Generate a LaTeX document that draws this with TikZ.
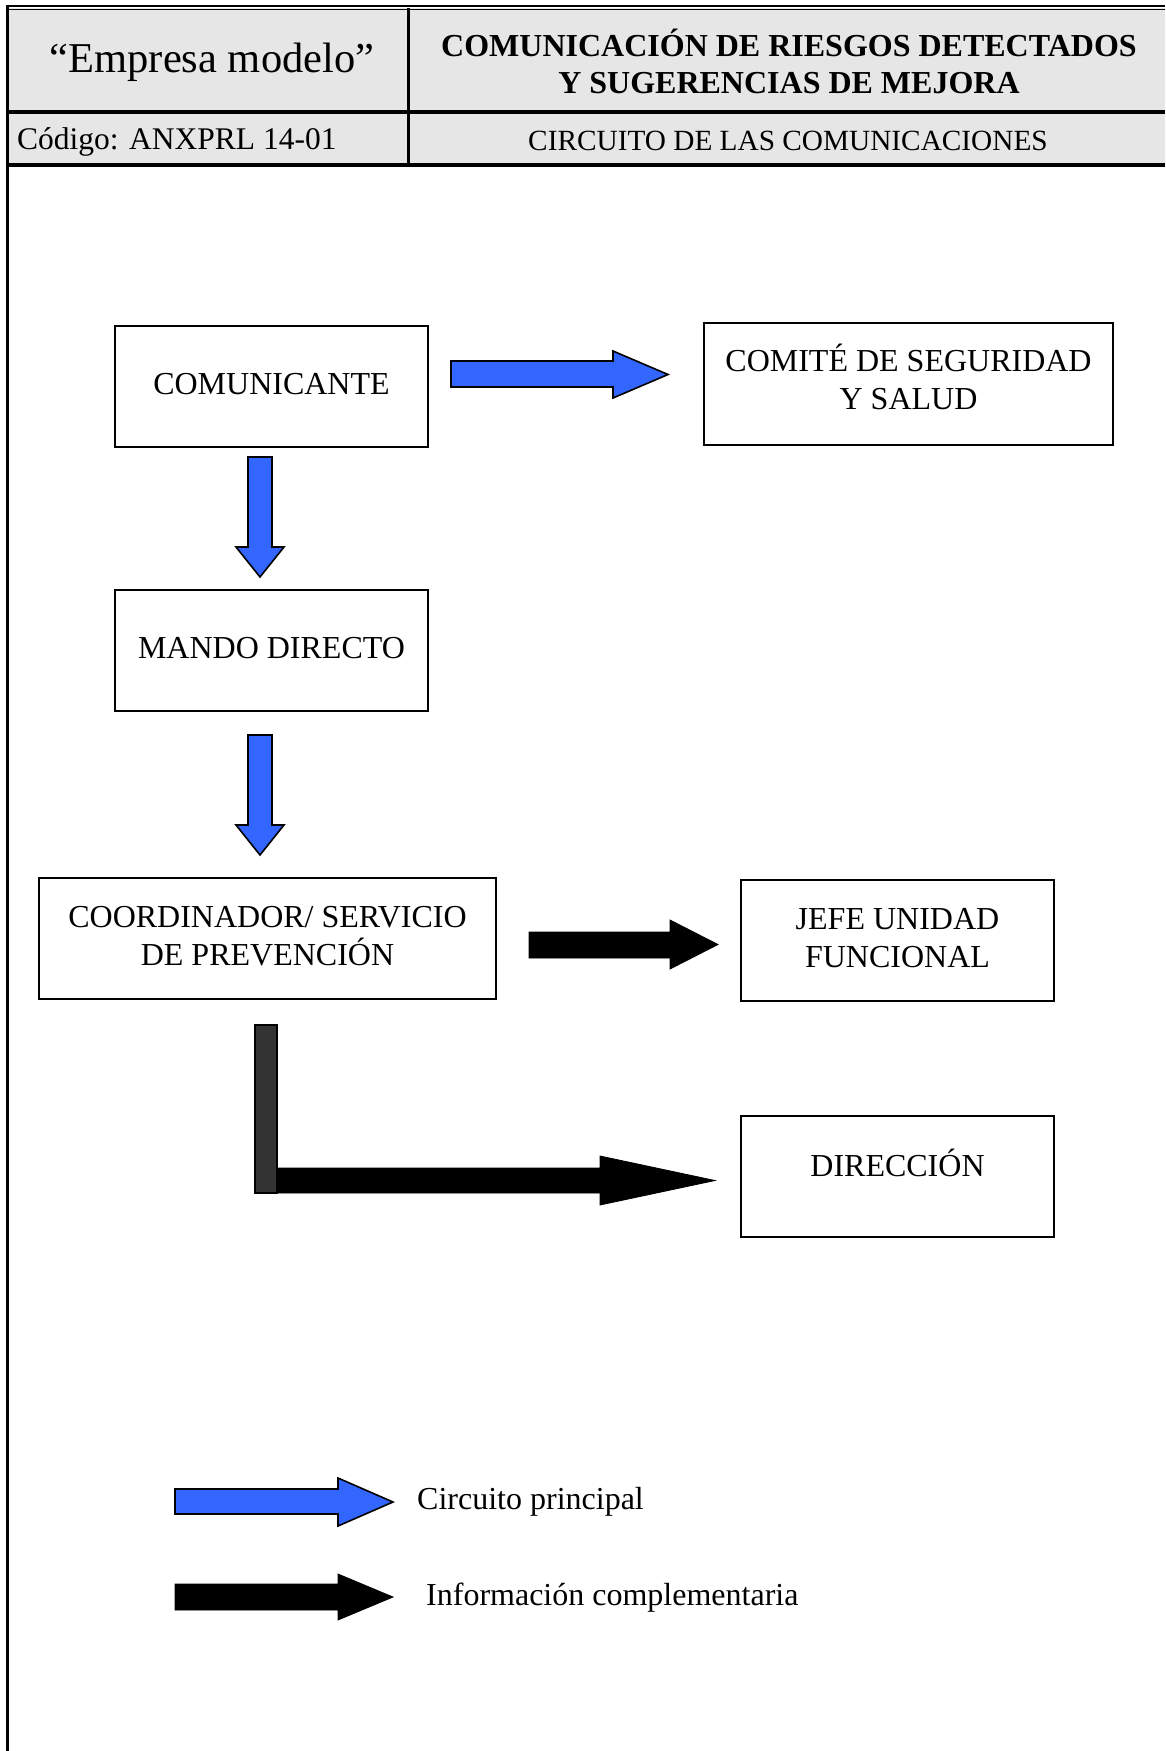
\documentclass[tikz,border=0pt]{standalone}
\usepackage{fontspec}
\setmainfont{Liberation Serif}
\definecolor{hdrgray}{HTML}{E6E6E6}
\definecolor{arrblue}{HTML}{3366FF}
\definecolor{bargray}{HTML}{333333}
\tikzset{
  box/.style={draw=black, line width=1.4pt, fill=white, inner sep=0pt},
  boxtext/.style={font=\fontsize{32}{38}\selectfont, align=center, inner sep=0pt},
  bluearrow/.style={fill=arrblue, draw=black, line width=1.6pt, line join=miter},
  blackarrow/.style={fill=black, draw=black, line width=0.8pt, line join=miter},
  rule/.style={draw=black, line width=3.5pt},
}
\begin{document}
\begin{tikzpicture}[x=1pt,y=-1pt]
\useasboundingbox (0,0) rectangle (1165,1751);
% header
\fill[hdrgray] (8,8) rectangle (1165,165);
\draw[black, line width=2pt] (6,6) -- (1165,6);
\draw[black, line width=1pt] (8,9) -- (1165,9);
\draw[rule] (8,112) -- (1165,112);
\draw[rule] (8,165) -- (1165,165);
\draw[black, line width=3pt] (408,8) -- (408,165);
\draw[black, line width=3pt] (7.5,5) -- (7.5,1751);
\node[font=\fontsize{42.5}{48}\selectfont, inner sep=0pt] (emp) at (212,62) {“Empresa modelo”};
\node[font=\fontsize{32}{37}\selectfont\bfseries, align=center, inner sep=0pt] (title) at (789,61) {COMUNICACIÓN DE RIESGOS DETECTADOS\\Y SUGERENCIAS DE MEJORA};
\node[font=\fontsize{31.5}{36}\selectfont, anchor=west, inner sep=0pt] (cod) at (17,142) {Código: ANXPRL 14-01};
\node[font=\fontsize{29.3}{34}\selectfont, inner sep=0pt] (circ) at (788,141) {CIRCUITO DE LAS COMUNICACIONES};
% boxes
\draw[box] (115,326) rectangle (428,447);
\node[boxtext] (comunicante) at (271.5,384) {COMUNICANTE};
\draw[box] (704,323) rectangle (1113,445);
\node[boxtext] (comite) at (908.5,377) {COMITÉ DE SEGURIDAD\\Y SALUD};
\draw[box] (115,590) rectangle (428,711);
\node[boxtext] (mando) at (271.5,648) {MANDO DIRECTO};
\draw[box] (39,878) rectangle (496,999);
\node[boxtext] (coord) at (267.5,936) {COORDINADOR/ SERVICIO\\DE PREVENCIÓN};
\draw[box] (741,880) rectangle (1054,1001);
\node[boxtext] (jefe) at (897.5,938) {JEFE UNIDAD\\FUNCIONAL};
\draw[box] (741,1116) rectangle (1054,1237);
\node[boxtext] (direccion) at (897.5,1163) {DIRECCIÓN};
% blue arrows
\draw[bluearrow] (451,361) -- (613,361) -- (613,351) -- (668,374.5) -- (613,398) -- (613,387) -- (451,387) -- cycle;
\draw[bluearrow] (248,457) -- (272,457) -- (272,547) -- (284,547) -- (260,577) -- (236,547) -- (248,547) -- cycle;
\draw[bluearrow] (248,735) -- (272,735) -- (272,825) -- (284,825) -- (260,855) -- (236,825) -- (248,825) -- cycle;
% black arrows
\draw[blackarrow] (529,932) -- (670,932) -- (670,920) -- (718,944.5) -- (670,969) -- (670,958) -- (529,958) -- cycle;
\draw[blackarrow] (277,1168) -- (600,1168) -- (600,1156) -- (715,1180.5) -- (600,1205) -- (600,1193) -- (277,1193) -- cycle;
\draw[fill=bargray, draw=black, line width=1.2pt] (255,1025) rectangle (277,1193);
% legend
\draw[bluearrow] (175,1489) -- (338,1489) -- (338,1478) -- (393,1502) -- (338,1526) -- (338,1514) -- (175,1514) -- cycle;
\node[font=\fontsize{32}{36}\selectfont, anchor=west, inner sep=0pt] (leg1) at (417,1502) {Circuito principal};
\node[font=\fontsize{32}{36}\selectfont, anchor=west, inner sep=0pt] (leg2) at (426,1598) {Información complementaria};
\draw[blackarrow] (175,1584) -- (338,1584) -- (338,1574) -- (393,1597) -- (338,1620) -- (338,1610) -- (175,1610) -- cycle;
\end{tikzpicture}
\end{document}
